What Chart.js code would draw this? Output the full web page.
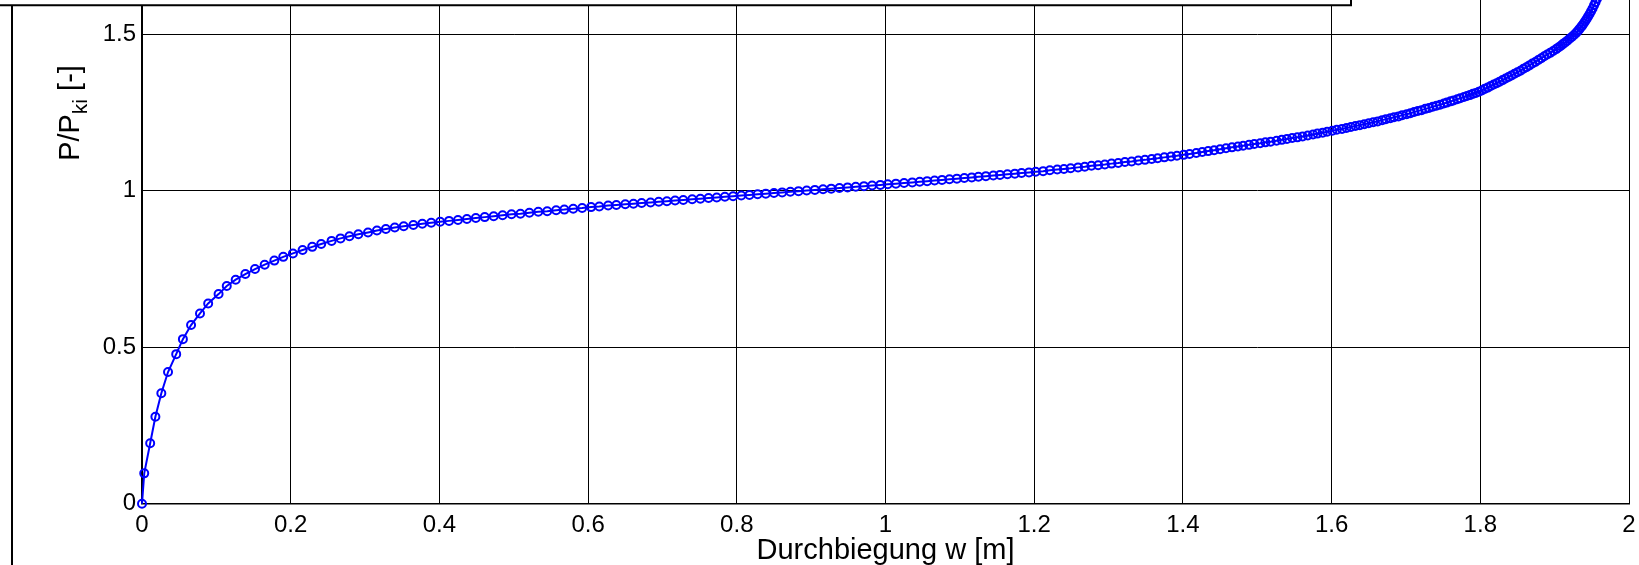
<!DOCTYPE html>
<html>
<head>
<meta charset="utf-8">
<script src="https://cdn.jsdelivr.net/npm/chart.js@4/dist/chart.umd.min.js"></script>
<style>
  html, body { margin: 0; padding: 0; background: #fff; overflow: hidden; }
  #wrap { width: 1639px; height: 565px; }
</style>
</head>
<body>
<div id="wrap"><canvas id="chart"></canvas></div>
<script>
// Durchbiegung w [m]
const deflection = [
  0, 0.003, 0.011, 0.018, 0.026, 0.035, 0.046, 0.055, 0.066, 0.078, 0.089, 0.103,
  0.114, 0.126, 0.139, 0.152, 0.165, 0.178, 0.190, 0.203, 0.216, 0.229, 0.241, 0.255,
  0.267, 0.279, 0.291, 0.304, 0.316, 0.328, 0.340, 0.352, 0.365, 0.377, 0.389, 0.401,
  0.413, 0.425, 0.437, 0.449, 0.461, 0.473, 0.485, 0.497, 0.509, 0.521, 0.533, 0.545,
  0.557, 0.568, 0.580, 0.592, 0.604, 0.615, 0.627, 0.638, 0.650,
  0.661, 0.672, 0.684, 0.695, 0.706, 0.717, 0.728, 0.740, 0.751, 0.762, 0.773, 0.784,
  0.795, 0.806, 0.817, 0.828, 0.839, 0.850, 0.861, 0.872, 0.883, 0.894, 0.905, 0.916,
  0.927, 0.938, 0.949, 0.960, 0.971, 0.982, 0.993, 1.003, 1.014, 1.025, 1.036,
  1.046, 1.056, 1.066, 1.076, 1.086, 1.096, 1.106, 1.116, 1.125, 1.135, 1.145, 1.154,
  1.164, 1.174, 1.183, 1.193, 1.202, 1.212, 1.221, 1.231, 1.240, 1.249, 1.259, 1.268,
  1.277, 1.286, 1.295, 1.304, 1.313, 1.322, 1.331, 1.340, 1.349, 1.358, 1.366, 1.375,
  1.384, 1.392, 1.401, 1.409, 1.418,
  1.426, 1.434, 1.442, 1.450, 1.458, 1.466, 1.474, 1.481, 1.489, 1.496, 1.504, 1.511,
  1.518, 1.526, 1.533, 1.540, 1.547, 1.554, 1.561, 1.568, 1.575, 1.581, 1.588, 1.594,
  1.601, 1.607, 1.614, 1.620, 1.626, 1.632, 1.638, 1.644, 1.650, 1.656, 1.662, 1.668,
  1.673, 1.679, 1.684, 1.690, 1.695, 1.701, 1.706, 1.711, 1.716, 1.721, 1.726, 1.731,
  1.736, 1.741, 1.746, 1.751, 1.755, 1.760, 1.764, 1.769, 1.773, 1.778, 1.782, 1.786,
  1.790, 1.794, 1.798,
  1.802, 1.806, 1.810, 1.814, 1.818, 1.822, 1.826, 1.830, 1.834, 1.838, 1.842, 1.846,
  1.850, 1.854, 1.858, 1.862, 1.866, 1.870, 1.874, 1.878, 1.882, 1.886, 1.890, 1.894,
  1.898, 1.902, 1.905, 1.908, 1.911, 1.914, 1.917, 1.920, 1.923, 1.926, 1.929, 1.931,
  1.933, 1.935, 1.937, 1.939, 1.941, 1.943, 1.945, 1.947, 1.949, 1.951, 1.953, 1.955,
  1.957, 1.959, 1.961, 1.963, 1.965, 1.967
];

// P/Pki [-]
const loadRatio = [
  0, 0.097, 0.193, 0.278, 0.353, 0.421, 0.478, 0.526, 0.571, 0.608, 0.640, 0.670,
  0.696, 0.716, 0.734, 0.750, 0.764, 0.777, 0.789, 0.800, 0.811, 0.821, 0.830, 0.840,
  0.848, 0.855, 0.861, 0.867, 0.873, 0.878, 0.883, 0.887, 0.891, 0.895, 0.898, 0.901,
  0.904, 0.907, 0.910, 0.913, 0.916, 0.919, 0.922, 0.925, 0.927, 0.930, 0.933, 0.935,
  0.938, 0.940, 0.943, 0.945, 0.948, 0.950, 0.953, 0.955, 0.957,
  0.959, 0.961, 0.963, 0.965, 0.967, 0.969, 0.971, 0.973, 0.975, 0.977, 0.979, 0.981,
  0.983, 0.985, 0.987, 0.989, 0.991, 0.993, 0.995, 0.997, 0.999, 1.001, 1.003, 1.005,
  1.007, 1.009, 1.011, 1.013, 1.015, 1.017, 1.019, 1.021, 1.023, 1.025, 1.027,
  1.029, 1.031, 1.033, 1.035, 1.037, 1.039, 1.041, 1.043, 1.045, 1.047, 1.049, 1.051,
  1.053, 1.055, 1.057, 1.059, 1.061, 1.063, 1.066, 1.068, 1.070, 1.072, 1.075, 1.077,
  1.080, 1.082, 1.084, 1.087, 1.089, 1.092, 1.094, 1.097, 1.099, 1.102, 1.104, 1.107,
  1.110, 1.112, 1.115, 1.118, 1.121,
  1.124, 1.127, 1.130, 1.133, 1.136, 1.139, 1.142, 1.144, 1.147, 1.150, 1.152, 1.155,
  1.157, 1.160, 1.163, 1.166, 1.169, 1.171, 1.174, 1.177, 1.180, 1.183, 1.186, 1.189,
  1.192, 1.195, 1.198, 1.201, 1.204, 1.207, 1.210, 1.213, 1.216, 1.219, 1.222, 1.226,
  1.229, 1.232, 1.235, 1.238, 1.242, 1.245, 1.248, 1.252, 1.255, 1.258, 1.262, 1.265,
  1.269, 1.272, 1.275, 1.279, 1.282, 1.286, 1.289, 1.293, 1.296, 1.300, 1.303, 1.306,
  1.310, 1.313, 1.317,
  1.321, 1.326, 1.330, 1.335, 1.340, 1.344, 1.349, 1.354, 1.359, 1.364, 1.369, 1.374,
  1.379, 1.384, 1.390, 1.395, 1.401, 1.407, 1.412, 1.418, 1.424, 1.430, 1.436, 1.441,
  1.447, 1.453, 1.458, 1.463, 1.469, 1.474, 1.480, 1.486, 1.492, 1.498, 1.505, 1.510,
  1.516, 1.522, 1.528, 1.535, 1.542, 1.549, 1.557, 1.565, 1.574, 1.583, 1.593, 1.603,
  1.614, 1.626, 1.638, 1.651, 1.665, 1.680
];

const xTicks = [0, 0.2, 0.4, 0.6, 0.8, 1, 1.2, 1.4, 1.6, 1.8, 2];
const xTickLabels = ['0', '0.2', '0.4', '0.6', '0.8', '1', '1.2', '1.4', '1.6', '1.8', '2'];
const yTicks = [0, 0.5, 1, 1.5];
const yTickLabels = ['0', '0.5', '1', '1.5'];

const xTitle = 'Durchbiegung w [m]';
const yTitleMain = 'P/P';
const yTitleSub = 'ki';
const yTitleTail = ' [-]';

const fontFamily = '"Liberation Sans", Arial, Helvetica, sans-serif';

const points = deflection.map((w, i) => ({ x: w, y: loadRatio[i] }));

// frame remains of the figure window and the y label with subscript
const figureExtras = {
  id: 'figureExtras',
  afterDraw(chart) {
    const ctx = chart.ctx;
    ctx.save();
    ctx.fillStyle = '#fff';
    ctx.fillRect(0, 0, 1351, 5);
    ctx.strokeStyle = '#000';
    ctx.lineWidth = 2;
    ctx.beginPath();
    ctx.moveTo(0, 5.3);
    ctx.lineTo(1351, 5.3);
    ctx.lineTo(1351, 0);
    ctx.moveTo(12, 5);
    ctx.lineTo(12, chart.height);
    ctx.stroke();

    // rotated y title
    ctx.translate(79, 113);
    ctx.rotate(-Math.PI / 2);
    ctx.fillStyle = '#000';
    ctx.textBaseline = 'alphabetic';
    const mainFont = '29px ' + fontFamily;
    const subFont = '21px ' + fontFamily;
    ctx.font = mainFont;
    const w1 = ctx.measureText(yTitleMain).width;
    const w3 = ctx.measureText(yTitleTail).width;
    ctx.font = subFont;
    const w2 = ctx.measureText(yTitleSub).width;
    let x = -(w1 + w2 + w3) / 2;
    ctx.font = mainFont;
    ctx.fillText(yTitleMain, x, 0);
    x += w1;
    ctx.font = subFont;
    ctx.fillText(yTitleSub, x, 8);
    x += w2;
    ctx.font = mainFont;
    ctx.fillText(yTitleTail, x, 0);
    ctx.restore();
  }
};

new Chart(document.getElementById('chart'), {
  type: 'scatter',
  data: {
    datasets: [{
      data: points,
      showLine: true,
      borderColor: '#0000ff',
      borderWidth: 2,
      pointRadius: 4,
      pointHoverRadius: 4,
      pointBorderWidth: 2,
      pointBorderColor: '#0000ff',
      pointBackgroundColor: 'rgba(0,0,0,0)',
      tension: 0,
      clip: false
    }]
  },
  options: {
    responsive: true,
    maintainAspectRatio: false,
    animation: false,
    events: [],
    layout: { autoPadding: false, padding: { top: 0, right: 10, bottom: 0, left: 0 } },
    plugins: {
      legend: { display: false },
      tooltip: { enabled: false }
    },
    scales: {
      x: {
        type: 'linear',
        min: 0,
        max: 2,
        afterBuildTicks: s => { s.ticks = xTicks.map(v => ({ value: v })); },
        afterFit: s => { s.height = 61.3; s.paddingLeft = 0; s.paddingRight = 0; },
        grid: { color: '#000', lineWidth: 1, drawTicks: false },
        border: { color: '#000', width: 1.5 },
        ticks: {
          color: '#000',
          font: { family: fontFamily, size: 24 },
          padding: 7,
          maxRotation: 0,
          autoSkip: false,
          callback: (v, i) => xTickLabels[i]
        },
        title: {
          display: true,
          text: xTitle,
          color: '#000',
          font: { family: fontFamily, size: 29 },
          padding: { top: 0, bottom: -3 }
        }
      },
      y: {
        type: 'linear',
        min: 0,
        max: 1.61,
        afterBuildTicks: s => { s.ticks = yTicks.map(v => ({ value: v })); },
        afterFit: s => { s.width = 142; s.paddingTop = 0; s.paddingBottom = 0; },
        grid: { color: '#000', lineWidth: 1, drawTicks: false },
        border: { color: '#000', width: 1.5 },
        ticks: {
          color: '#000',
          font: { family: fontFamily, size: 24 },
          padding: 6,
          autoSkip: false,
          callback: (v, i) => yTickLabels[i]
        }
      }
    }
  },
  plugins: [figureExtras]
});
</script>
</body>
</html>
